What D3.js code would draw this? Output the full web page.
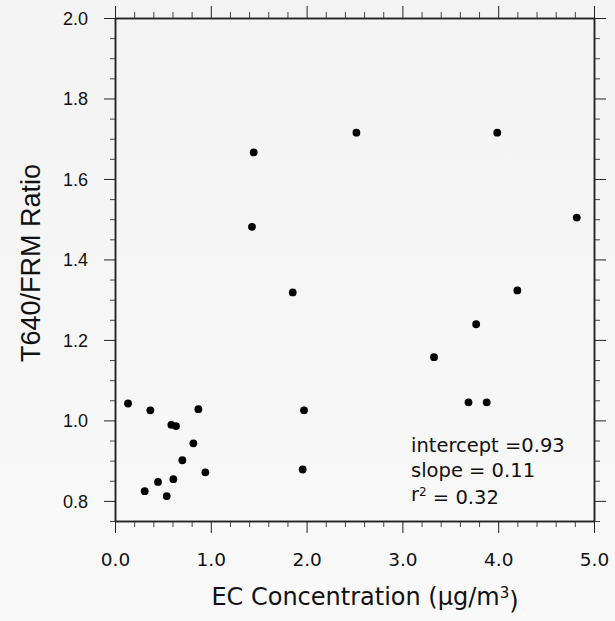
<!DOCTYPE html>
<html>
<head>
<meta charset="utf-8">
<script src="https://cdn.jsdelivr.net/npm/d3@7"></script>
<style>
  html, body { margin: 0; padding: 0; background: #f6f6f6; }
  svg { display: block; }
  .axis path, .axis line { stroke: #222; }
  .axis path { stroke-width: 1.5px; }
  .minor line { stroke: #444; }
  .ytick text { font-family: "Liberation Sans", Arial, sans-serif; font-size: 18px; fill: #111; }
  .xtick text { font-family: "DejaVu Sans", Verdana, sans-serif; font-size: 18.5px; fill: #111; }
</style>
</head>
<body>
<div id="chart"></div>
<script>
// EC concentration (ug/m3) vs T640/FRM ratio
const ecConc = [0.136, 0.369, 0.870, 0.588, 0.637, 0.818, 0.703, 0.943, 0.449, 0.609,
                0.310, 0.540, 1.973, 1.959, 1.448, 1.430, 1.855, 2.520, 3.990, 4.820,
                4.200, 3.770, 3.330, 3.690, 3.880];
const ratio = [1.042, 1.025, 1.028, 0.989, 0.986, 0.943, 0.901, 0.871, 0.847, 0.854,
               0.824, 0.812, 1.025, 0.878, 1.666, 1.481, 1.318, 1.715, 1.715, 1.504,
               1.323, 1.239, 1.157, 1.045, 1.045];
const xTicks = [0, 1, 2, 3, 4, 5];
const xMinor = [0.2, 0.4, 0.6, 0.8, 1.2, 1.4, 1.6, 1.8, 2.2, 2.4, 2.6, 2.8,
                3.2, 3.4, 3.6, 3.8, 4.2, 4.4, 4.6, 4.8];
const yTicks = [0.8, 1.0, 1.2, 1.4, 1.6, 1.8, 2.0];
const yMinor = [0.75, 0.85, 0.9, 0.95, 1.05, 1.1, 1.15, 1.25, 1.3, 1.35, 1.45, 1.5, 1.55,
                1.65, 1.7, 1.75, 1.85, 1.9, 1.95];
const statLines = ['intercept =0.93', 'slope = 0.11'];

const width = 615, height = 621;
const margin = {top: 18, right: 21, bottom: 100, left: 115};

const svg = d3.select('#chart').append('svg')
    .attr('width', width)
    .attr('height', height);

const defs = svg.append('defs');
const grad = defs.append('linearGradient')
    .attr('id', 'bg').attr('x1', 0).attr('x2', 0).attr('y1', 0).attr('y2', 1);
grad.append('stop').attr('offset', '0%').attr('stop-color', '#f3f3f3');
grad.append('stop').attr('offset', '100%').attr('stop-color', '#f9f9f9');
svg.append('rect').attr('width', width).attr('height', height).attr('fill', 'url(#bg)');

const x = d3.scaleLinear().domain([0, 5]).range([margin.left, width - margin.right]);
const y = d3.scaleLinear().domain([0.75, 2.0]).range([height - margin.bottom, margin.top]);

const fmt = d3.format('.1f');

function addAxis(axis, transform, cls) {
    return svg.append('g')
        .attr('class', 'axis ' + cls)
        .attr('transform', transform)
        .call(axis);
}

// minor ticks first, majors drawn over them
addAxis(d3.axisBottom(x).tickValues(xMinor).tickSize(6).tickSizeOuter(0).tickFormat(''),
    `translate(0,${height - margin.bottom})`, 'minor');
addAxis(d3.axisTop(x).tickValues(xMinor).tickSize(6).tickSizeOuter(0).tickFormat(''),
    `translate(0,${margin.top})`, 'minor');
addAxis(d3.axisLeft(y).tickValues(yMinor).tickSize(5).tickSizeOuter(0).tickFormat(''),
    `translate(${margin.left},0)`, 'minor');
addAxis(d3.axisRight(y).tickValues(yMinor).tickSize(6).tickSizeOuter(0).tickFormat(''),
    `translate(${width - margin.right},0)`, 'minor');

addAxis(d3.axisBottom(x).tickValues(xTicks).tickSize(12).tickSizeOuter(0).tickPadding(20).tickFormat(fmt),
    `translate(0,${height - margin.bottom})`, 'xtick');
addAxis(d3.axisTop(x).tickValues(xTicks).tickSize(12).tickSizeOuter(0).tickFormat(''),
    `translate(0,${margin.top})`, 'major');
addAxis(d3.axisLeft(y).tickValues(yTicks).tickSize(11).tickSizeOuter(0).tickPadding(16).tickFormat(fmt),
    `translate(${margin.left},0)`, 'ytick');
addAxis(d3.axisRight(y).tickValues(yTicks).tickSize(12).tickSizeOuter(0).tickFormat(''),
    `translate(${width - margin.right},0)`, 'major');

svg.selectAll('.ytick text').attr('dy', '0.36em');

// points
svg.append('g')
    .selectAll('circle')
    .data(ecConc.map((v, i) => [v, ratio[i]]))
    .join('circle')
    .attr('cx', d => x(d[0]))
    .attr('cy', d => y(d[1]))
    .attr('r', 3.9)
    .attr('fill', '#000');

// axis titles
svg.append('text')
    .attr('transform', `translate(39.5,263) rotate(-90)`)
    .attr('text-anchor', 'middle')
    .style('font-family', '"Liberation Sans", Arial, sans-serif')
    .style('font-size', '27px')
    .attr('fill', '#111')
    .text('T640/FRM Ratio');

const xl = svg.append('text')
    .attr('x', 365)
    .attr('y', 605)
    .attr('text-anchor', 'middle')
    .style('font-family', '"DejaVu Sans", Verdana, sans-serif')
    .style('font-size', '24px')
    .attr('fill', '#111');
xl.append('tspan').text('EC Concentration (µg/m');
xl.append('tspan').attr('dy', '-0.45em').style('font-size', '15px').text('3');
xl.append('tspan').attr('dy', '0.45em').text(')');

// regression stats
const stat = svg.append('g')
    .style('font-family', '"DejaVu Sans", Verdana, sans-serif')
    .style('font-size', '19.5px')
    .attr('fill', '#111');
stat.selectAll('text.line')
    .data(statLines)
    .join('text')
    .attr('class', 'line')
    .attr('x', 411)
    .attr('y', (d, i) => 452.3 + i * 24.4)
    .text(d => d);
const r2 = stat.append('text').attr('x', 411).attr('y', 452.3 + 2 * 24.4);
r2.append('tspan').text('r');
r2.append('tspan').attr('dy', '-0.45em').style('font-size', '12px').text('2');
r2.append('tspan').attr('dy', '0.45em').text(' = 0.32');
</script>
</body>
</html>
